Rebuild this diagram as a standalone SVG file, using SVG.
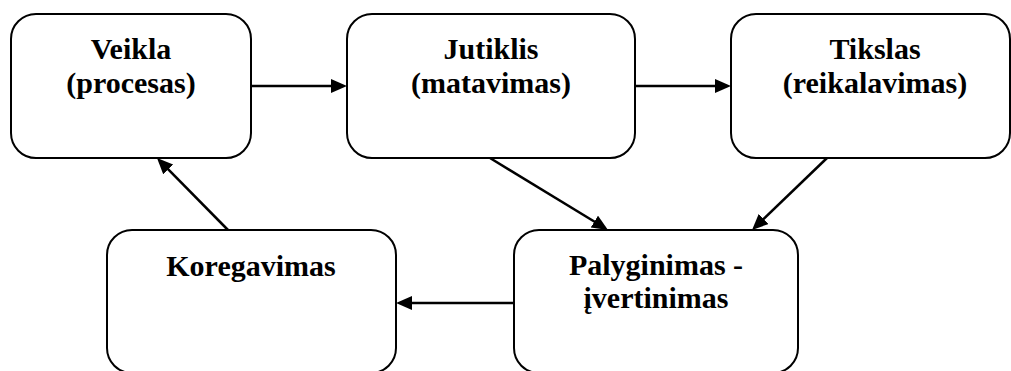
<svg xmlns="http://www.w3.org/2000/svg" width="1011" height="371" viewBox="0 0 1011 371">
<style>
.box{fill:#fff;stroke:#000;stroke-width:2}
.t{font-family:"Liberation Serif","Times New Roman",serif;font-weight:bold;font-size:30px;fill:#000;text-anchor:middle}
.c{stroke:#000;stroke-width:2.5;fill:none;marker-end:url(#ah)}
</style>
<defs>
<marker id="ah" markerUnits="userSpaceOnUse" markerWidth="17" markerHeight="15" refX="8" refY="7" orient="auto">
<path d="M0,0 L16,7 L0,14 z" fill="#000"/>
</marker>
</defs>
<rect width="1011" height="371" fill="#fff"/>
<g id="connectors">
<line class="c" x1="251" y1="86" x2="339" y2="86"/>
<line class="c" x1="635" y1="86" x2="723" y2="86"/>
<line class="c" x1="490" y1="158" x2="601.2" y2="225.8"/>
<line class="c" x1="827" y1="158" x2="757.8" y2="224.5"/>
<line class="c" x1="514" y1="303" x2="404" y2="303"/>
<line class="c" x1="228" y1="230" x2="162.6" y2="163.7"/>
</g>
<g id="veikla">
<rect class="box" x="11" y="14" width="240" height="144" rx="25"/>
<text class="t" x="131" y="59">Veikla</text>
<text class="t" x="131" y="93">(procesas)</text>
</g>
<g id="jutiklis">
<rect class="box" x="347" y="14" width="288" height="144" rx="25"/>
<text class="t" x="491" y="59">Jutiklis</text>
<text class="t" x="491" y="93">(matavimas)</text>
</g>
<g id="tikslas">
<rect class="box" x="731" y="14" width="279" height="144" rx="25"/>
<text class="t" x="875" y="59">Tikslas</text>
<text class="t" x="875" y="93">(reikalavimas)</text>
</g>
<g id="koregavimas">
<rect class="box" x="107" y="230" width="289" height="143" rx="25"/>
<text class="t" x="251" y="276">Koregavimas</text>
</g>
<g id="palyginimas">
<rect class="box" x="514" y="230" width="284" height="143" rx="25"/>
<text class="t" x="656" y="275">Palyginimas -</text>
<text class="t" x="656" y="308">įvertinimas</text>
</g>
</svg>
